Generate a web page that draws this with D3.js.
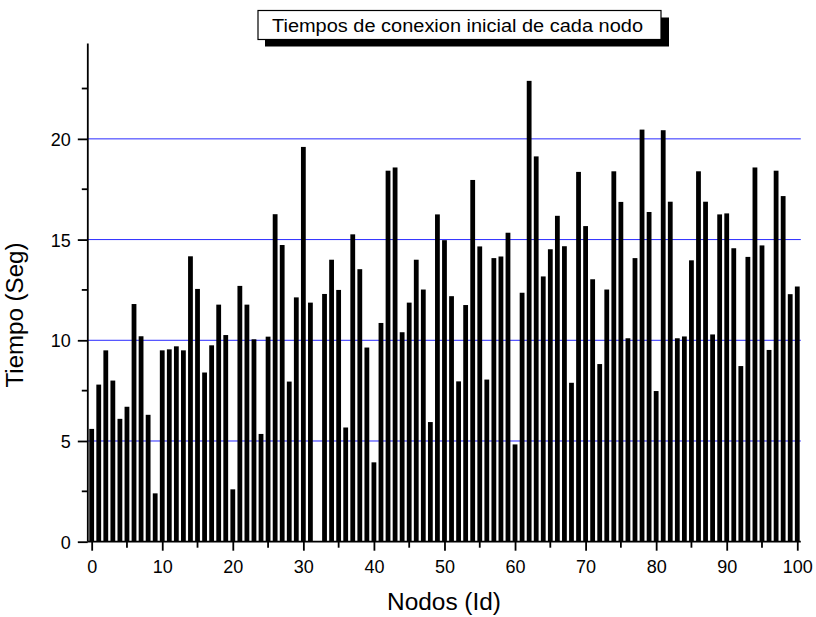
<!DOCTYPE html>
<html><head><meta charset="utf-8">
<script src="https://cdn.jsdelivr.net/npm/d3@7"></script>
<style>body{margin:0;background:#fff}svg{display:block}text{font-family:"Liberation Sans",Arial,sans-serif}</style>
</head><body><svg id="c" width="816" height="617"></svg>
<script>
const nodeIds = d3.range(0, 101);
const tiempos = [
5.6,7.8,9.5,8.0,6.1,6.7,11.8,10.2,6.3,2.4,
9.5,9.55,9.7,9.5,14.17,12.55,8.4,9.75,11.77,10.26,
2.6,12.7,11.77,10.05,5.35,10.18,16.26,14.73,7.95,12.13,
19.6,11.87,null,12.3,14.0,12.5,5.67,15.26,13.53,9.64,
3.94,10.86,18.42,18.58,10.4,11.87,14.0,12.52,5.94,16.25,
14.97,12.19,7.96,11.75,17.96,14.66,8.05,14.08,14.16,15.34,
4.83,12.36,22.88,19.13,13.17,14.52,16.18,14.67,7.89,18.36,
15.67,13.03,8.82,12.52,18.39,16.87,10.1,14.08,20.46,16.37,
7.48,20.43,16.88,10.1,10.19,13.97,18.39,16.88,10.29,16.25,
16.3,14.57,8.72,14.14,18.58,14.71,9.52,18.42,17.16,12.29,
12.67];
const xTicks = [0,10,20,30,40,50,60,70,80,90,100];
const xMinor = [5,15,25,35,45,55,65,75,85,95];
const yTicks = [0,5,10,15,20];
const yMinor = [2.5,7.5,12.5,17.5,22.5];
const gridVals = [5,10,15,20];
const titleText = "Tiempos de conexion inicial de cada nodo";
const xLabel = "Nodos (Id)";
const yLabel = "Tiempo (Seg)";

const svg = d3.select("#c");
const x = d3.scaleLinear().domain([-0.55, 100.5]).range([87.8, 800.8]);
const y = d3.scaleLinear().domain([0, 24.74]).range([541.7, 43.4]);

// grid
svg.append("g").selectAll("line").data(gridVals).join("line")
  .attr("x1", x(-0.55)).attr("x2", x(100.5))
  .attr("y1", d => y(d)).attr("y2", d => y(d))
  .attr("stroke", "#2a2aff").attr("stroke-width", 1);

// bars
const bw = x(0.68) - x(0);
const data = nodeIds.map((id, i) => ({id, v: tiempos[i]})).filter(d => d.v != null);
svg.append("g").selectAll("rect").data(data).join("rect")
  .attr("x", d => x(d.id) - bw / 2)
  .attr("width", bw)
  .attr("y", d => y(d.v))
  .attr("height", d => y(0) - y(d.v))
  .attr("fill", "#000");

// axes
const xAxis = d3.axisBottom(x).tickValues(xTicks).tickSize(9);
const gx = svg.append("g").attr("transform", `translate(0,${y(0)})`).call(xAxis);
gx.select(".domain").attr("stroke-width", 1.8).attr("d", `M${x(-0.55)},0H${x(100.5)}`);
gx.selectAll(".tick line").attr("stroke-width", 1.8);
gx.selectAll("text").attr("font-size", 18).attr("fill", "#000").attr("y", 31.6).attr("dy", null);
svg.append("g").attr("transform", `translate(0,${y(0)})`).selectAll("line").data(xMinor).join("line")
  .attr("x1", d => x(d)).attr("x2", d => x(d)).attr("y1", 0).attr("y2", 6)
  .attr("stroke", "#000").attr("stroke-width", 1.8);

const yAxis = d3.axisLeft(y).tickValues(yTicks).tickSize(10);
const gy = svg.append("g").attr("transform", `translate(${x(-0.55)},0)`).call(yAxis);
gy.select(".domain").attr("stroke-width", 1.8).attr("d", `M0,${y(0)}V${y(24.74)}`);
gy.selectAll(".tick line").attr("stroke-width", 1.8);
gy.selectAll("text").attr("font-size", 18).attr("fill", "#000").attr("x", -17).attr("dy", "0.36em");
svg.append("g").attr("transform", `translate(${x(-0.55)},0)`).selectAll("line").data(yMinor).join("line")
  .attr("x1", 0).attr("x2", -6).attr("y1", d => y(d)).attr("y2", d => y(d))
  .attr("stroke", "#000").attr("stroke-width", 1.8);

// axis labels
svg.append("text").attr("x", 444).attr("y", 610).attr("text-anchor", "middle")
  .attr("font-size", 23).attr("textLength", 114).attr("lengthAdjust", "spacingAndGlyphs").text(xLabel);
svg.append("text").attr("transform", "translate(23,315) rotate(-90)").attr("text-anchor", "middle")
  .attr("font-size", 23).attr("textLength", 145).attr("lengthAdjust", "spacingAndGlyphs").text(yLabel);

// title box with shadow
const bx = 258, by = 10.5, bwid = 403, bh = 29;
svg.append("rect").attr("x", bx + 7).attr("y", by + 7).attr("width", bwid + 1).attr("height", bh).attr("fill", "#000");
svg.append("rect").attr("x", bx).attr("y", by).attr("width", bwid).attr("height", bh)
  .attr("fill", "#fff").attr("stroke", "#000").attr("stroke-width", 1.2);
svg.append("text").attr("x", 457.5).attr("y", 31.5).attr("text-anchor", "middle")
  .attr("font-size", 17.5).attr("textLength", 371).attr("lengthAdjust", "spacingAndGlyphs").text(titleText);
</script></body></html>
